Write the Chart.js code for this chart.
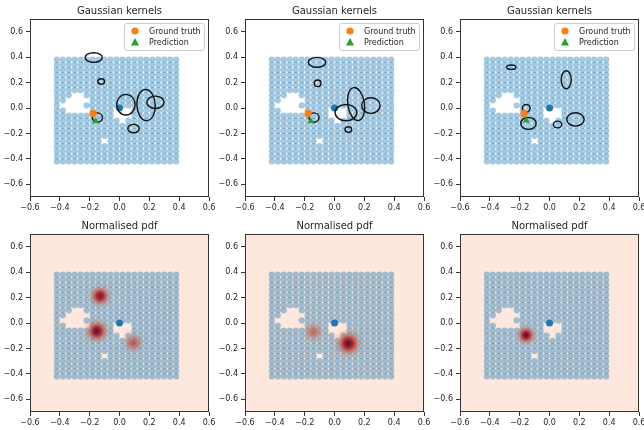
<!DOCTYPE html>
<html><head><meta charset="utf-8">
<script src="https://cdn.jsdelivr.net/npm/chart.js@4.4.1/dist/chart.umd.min.js"></script>
<style>
html,body{margin:0;padding:0;background:#fff;overflow:hidden;width:644px;height:430px}
.cell{position:absolute;width:215px;height:215px}
canvas{display:block}
</style></head><body>
<div class="cell" style="left:0;top:0"><canvas id="c0" width="215" height="215"></canvas></div>
<div class="cell" style="left:215px;top:0"><canvas id="c1" width="215" height="215"></canvas></div>
<div class="cell" style="left:430px;top:0"><canvas id="c2" width="215" height="215"></canvas></div>
<div class="cell" style="left:0;top:215px"><canvas id="c3" width="215" height="215"></canvas></div>
<div class="cell" style="left:215px;top:215px"><canvas id="c4" width="215" height="215"></canvas></div>
<div class="cell" style="left:430px;top:215px"><canvas id="c5" width="215" height="215"></canvas></div>
<script>
// ---------------- data ----------------
const xTickValues = [-0.6, -0.4, -0.2, 0.0, 0.2, 0.4, 0.6];
const yTickValues = [-0.6, -0.4, -0.2, 0.0, 0.2, 0.4, 0.6];
const titles = ["Gaussian kernels", "Gaussian kernels", "Gaussian kernels",
                "Normalised pdf", "Normalised pdf", "Normalised pdf"];

// sensor grid columns / rows
const gridX = [-0.42,-0.38,-0.34,-0.30,-0.26,-0.22,-0.18,-0.14,-0.10,-0.06,-0.02,
               0.02,0.06,0.10,0.14,0.18,0.22,0.26,0.30,0.34,0.38];
const gridY = [-0.42,-0.38,-0.34,-0.30,-0.26,-0.22,-0.18,-0.14,-0.10,-0.06,-0.02,
               0.02,0.06,0.10,0.14,0.18,0.22,0.26,0.30,0.34,0.38];
// grid positions that are absent (holes)
const missingPoints = [
  [-0.38,0.02],
  [-0.34,-0.02],[-0.34,0.02],[-0.34,0.06],
  [-0.30,-0.02],[-0.30,0.02],[-0.30,0.06],[-0.30,0.10],
  [-0.26,-0.02],[-0.26,0.02],[-0.26,0.06],[-0.26,0.10],
  [-0.22,-0.02],[-0.22,0.06],
  [-0.02,-0.02],[0.02,-0.02],[0.06,-0.02],
  [-0.02,-0.06],[0.02,-0.06],[0.06,-0.06],
  [0.02,-0.10],
  [-0.10,-0.26]
];
const originPoint = [{x: 0.0, y: 0.0}];

const groundTruth1 = [{x: -0.177, y: -0.043}];
const prediction1  = [{x: -0.160, y: -0.105}];
const groundTruth2 = [{x: -0.177, y: -0.043}];
const prediction2  = [{x: -0.158, y: -0.105}];
const groundTruth3 = [{x: -0.170, y: -0.043}];
const prediction3  = [{x: -0.155, y: -0.098}];

// Gaussian kernels: centre x, centre y, width, height (data units), tilt (rad)
const kernels1 = [
  {x:-0.173, y: 0.397, w:0.115, h:0.076, tilt:0},
  {x:-0.123, y: 0.209, w:0.045, h:0.042, tilt:0},
  {x:-0.148, y:-0.075, w:0.067, h:0.073, tilt:0},
  {x: 0.043, y: 0.026, w:0.123, h:0.163, tilt:0},
  {x: 0.178, y: 0.023, w:0.123, h:0.246, tilt:-0.05},
  {x: 0.241, y: 0.045, w:0.116, h:0.097, tilt:0},
  {x: 0.094, y:-0.162, w:0.076, h:0.066, tilt:0}
];
const kernels2 = [
  {x:-0.117, y: 0.359, w:0.117, h:0.078, tilt:0},
  {x:-0.113, y: 0.194, w:0.045, h:0.052, tilt:0},
  {x:-0.137, y:-0.075, w:0.067, h:0.073, tilt:0},
  {x: 0.077, y:-0.036, w:0.146, h:0.128, tilt:0},
  {x: 0.145, y: 0.031, w:0.112, h:0.262, tilt:-0.15},
  {x: 0.244, y: 0.019, w:0.123, h:0.123, tilt:0},
  {x: 0.093, y:-0.170, w:0.045, h:0.044, tilt:0}
];
const kernels3 = [
  {x:-0.256, y: 0.321, w:0.061, h:0.034, tilt:0},
  {x: 0.112, y: 0.222, w:0.067, h:0.142, tilt:0},
  {x:-0.156, y:-0.002, w:0.052, h:0.060, tilt:0},
  {x:-0.141, y:-0.121, w:0.103, h:0.095, tilt:0},
  {x: 0.054, y:-0.130, w:0.056, h:0.053, tilt:0},
  {x: 0.174, y:-0.090, w:0.116, h:0.105, tilt:0}
];
// normalised pdf peaks: x, y, relative intensity, spread (data units)
const pdf1 = [
  {x:-0.130, y: 0.212, level:0.92, sigma:0.034},
  {x:-0.152, y:-0.064, level:1.00, sigma:0.036},
  {x: 0.093, y:-0.156, level:0.55, sigma:0.034}
];
const pdf2 = [
  {x:-0.142, y:-0.069, level:0.45, sigma:0.034},
  {x: 0.093, y:-0.160, level:1.00, sigma:0.040}
];
const pdf3 = [
  {x:-0.157, y:-0.095, level:1.00, sigma:0.030}
];

// ---------------- build ----------------
const missingKeys = new Set(missingPoints.map(p => p[0].toFixed(3) + "," + p[1].toFixed(3)));
const gridPoints = [];
gridX.forEach(x => gridY.forEach(y => {
  if (!missingKeys.has(x.toFixed(3) + "," + y.toFixed(3))) gridPoints.push({x, y});
}));

const REDS = [[255,245,240],[254,224,210],[252,187,161],[252,146,114],[251,106,74],
              [239,59,44],[203,24,29],[165,15,21],[103,0,13]];
function redsArr(t) {
  t = Math.max(0, Math.min(1, t)) * 8;
  const i = Math.min(7, Math.floor(t)), f = t - i, a = REDS[i], b = REDS[i + 1];
  return [0,1,2].map(k => Math.round(a[k] + (b[k] - a[k]) * f));
}
function reds(t, alpha) {
  const c = redsArr(t);
  return alpha === undefined ? `rgb(${c[0]},${c[1]},${c[2]})` : `rgba(${c[0]},${c[1]},${c[2]},${alpha})`;
}
const BG_LEVEL = 0.08;

function fmt(v) {
  if (Math.abs(v) < 1e-9) v = 0;
  return v.toFixed(1).replace('-', '\u2212');
}

Chart.defaults.font.family = "'DejaVu Sans', sans-serif";
Chart.defaults.font.size = 8;
Chart.defaults.color = '#262626';

function drawBlobs(chart, blobs, overlay) {
  const {ctx, chartArea: a} = chart;
  const xs = chart.scales.x, ys = chart.scales.y;
  ctx.save();
  ctx.beginPath(); ctx.rect(a.left, a.top, a.right - a.left, a.bottom - a.top); ctx.clip();
  if (!overlay) {
    ctx.fillStyle = reds(BG_LEVEL);
    ctx.fillRect(a.left, a.top, a.right - a.left, a.bottom - a.top);
  }
  blobs.forEach(b => {
    const cx = xs.getPixelForValue(b.x), cy = ys.getPixelForValue(b.y);
    const s = Math.abs(xs.getPixelForValue(b.x + b.sigma) - cx);
    const R = s * 3;
    const g = ctx.createRadialGradient(cx, cy, 0, cx, cy, R);
    for (let i = 0; i <= 12; i++) {
      const r = i / 12 * R;
      const v = b.level * Math.exp(-r * r / (2 * s * s));
      const col = BG_LEVEL + (1 - BG_LEVEL) * v;
      g.addColorStop(i / 12, overlay ? reds(col, Math.min(1, v * 1.1) * 0.6) : reds(col));
    }
    ctx.fillStyle = g;
    ctx.beginPath(); ctx.arc(cx, cy, R, 0, Math.PI * 2); ctx.fill();
  });
  ctx.restore();
}

const panelPlugin = {
  id: 'panel',
  beforeDatasetsDraw(chart, args, opts) {
    if (opts.pdf) drawBlobs(chart, opts.pdf, false);
  },
  afterDatasetDraw(chart, args, opts) {
    if (opts.pdf && args.index === 0) drawBlobs(chart, opts.pdf, true);
    if (!opts.kernels || args.index !== 1) return;
    const {ctx} = chart;
    const xs = chart.scales.x, ys = chart.scales.y;
    ctx.save();
    ctx.strokeStyle = '#111';
    ctx.lineWidth = 1.4;
    opts.kernels.forEach(k => {
      const cx = xs.getPixelForValue(k.x), cy = ys.getPixelForValue(k.y);
      const rx = Math.abs(xs.getPixelForValue(k.x + k.w / 2) - cx);
      const ry = Math.abs(ys.getPixelForValue(k.y + k.h / 2) - cy);
      ctx.beginPath(); ctx.ellipse(cx, cy, rx, ry, k.tilt || 0, 0, Math.PI * 2); ctx.stroke();
    });
    ctx.restore();
  },
  afterDraw(chart, args, opts) {
    const {ctx, chartArea: a} = chart;
    ctx.save();
    // frame
    ctx.strokeStyle = '#333'; ctx.lineWidth = 1;
    ctx.strokeRect(Math.round(a.left) + 0.5, Math.round(a.top) + 0.5,
                   Math.round(a.right - a.left) - 1, Math.round(a.bottom - a.top) - 1);
    // title
    ctx.fillStyle = '#262626';
    ctx.font = "10px 'DejaVu Sans'";
    ctx.textAlign = 'center'; ctx.textBaseline = 'middle';
    ctx.fillText(opts.title, (a.left + a.right) / 2, a.top - 8);
    // legend
    if (opts.legend) {
      const lx = a.right - 85, ly = a.top + 4, lw = 80, lh = 27;
      ctx.fillStyle = 'rgba(255,255,255,0.85)';
      ctx.strokeStyle = '#cccccc';
      ctx.beginPath();
      ctx.roundRect(lx + 0.5, ly + 0.5, lw, lh, 2.5);
      ctx.fill(); ctx.stroke();
      ctx.font = "8px 'DejaVu Sans'";
      ctx.textAlign = 'left'; ctx.textBaseline = 'middle';
      const items = chart.data.datasets.filter(d => d.inLegend);
      items.forEach((d, i) => {
        const my = ly + 8 + i * 11.5, mx = lx + 11;
        ctx.fillStyle = d.backgroundColor;
        ctx.beginPath();
        if (d.pointStyle === 'triangle') {
          const r = d.pointRadius;
          ctx.moveTo(mx, my - r * 1.1); ctx.lineTo(mx + r, my + r * 0.75); ctx.lineTo(mx - r, my + r * 0.75);
          ctx.closePath();
        } else {
          ctx.arc(mx, my, d.pointRadius, 0, Math.PI * 2);
        }
        ctx.fill();
        ctx.fillStyle = '#262626';
        ctx.fillText(d.label, lx + 25, my + 0.5);
      });
    }
    ctx.restore();
  }
};

function makeChart(id, idx, cfg) {
  const datasets = [
    {label: 'grid', data: gridPoints, backgroundColor: 'rgba(31,119,180,0.4)', pointRadius: 3.1,
     borderWidth: 0, order: 4},
    {label: 'origin', data: originPoint, backgroundColor: '#1f77b4', pointRadius: 3.5, borderWidth: 0, order: 3}
  ];
  if (cfg.gt) {
    datasets.push({label: 'Ground truth', data: cfg.gt, backgroundColor: '#ff7f0e', pointRadius: 3.6,
                   pointStyle: 'circle', borderWidth: 0, order: 2, inLegend: true});
    datasets.push({label: 'Prediction', data: cfg.pred, backgroundColor: '#2ca02c', pointRadius: 4,
                   pointStyle: 'triangle', borderWidth: 0, order: 1, inLegend: true});
  }
  const tickGrid = {drawOnChartArea: false, drawTicks: true, tickLength: 4, tickColor: '#333', lineWidth: 1};
  return new Chart(document.getElementById(id), {
    type: 'scatter',
    data: {datasets},
    options: {
      responsive: false, animation: false, events: [],
      devicePixelRatio: 1,
      layout: {padding: {left: 0, top: 19, right: 6, bottom: 0}},
      plugins: {
        legend: {display: false}, tooltip: {enabled: false},
        panel: {title: titles[idx], legend: !!cfg.gt, kernels: cfg.kernels, pdf: cfg.pdf}
      },
      scales: {
        x: {type: 'linear', min: -0.6, max: 0.6,
            grid: tickGrid, border: {display: false},
            ticks: {callback: v => fmt(v), padding: 2, autoSkip: false, maxRotation: 0, color: '#262626'},
            afterBuildTicks: s => { s.ticks = xTickValues.map(v => ({value: v})); },
            afterFit: s => { s.height = 18; s.paddingLeft = 0; s.paddingRight = 0; }},
        y: {type: 'linear', min: -0.7, max: 0.7,
            grid: tickGrid, border: {display: false},
            ticks: {callback: v => fmt(v), padding: 3, autoSkip: false, color: '#262626'},
            afterBuildTicks: s => { s.ticks = yTickValues.map(v => ({value: v})); },
            afterFit: s => { s.width = 30; s.paddingTop = 0; s.paddingBottom = 0; }}
      }
    },
    plugins: [panelPlugin]
  });
}

makeChart('c0', 0, {gt: groundTruth1, pred: prediction1, kernels: kernels1});
makeChart('c1', 1, {gt: groundTruth2, pred: prediction2, kernels: kernels2});
makeChart('c2', 2, {gt: groundTruth3, pred: prediction3, kernels: kernels3});
makeChart('c3', 3, {pdf: pdf1});
makeChart('c4', 4, {pdf: pdf2});
makeChart('c5', 5, {pdf: pdf3});
</script>
</body></html>
